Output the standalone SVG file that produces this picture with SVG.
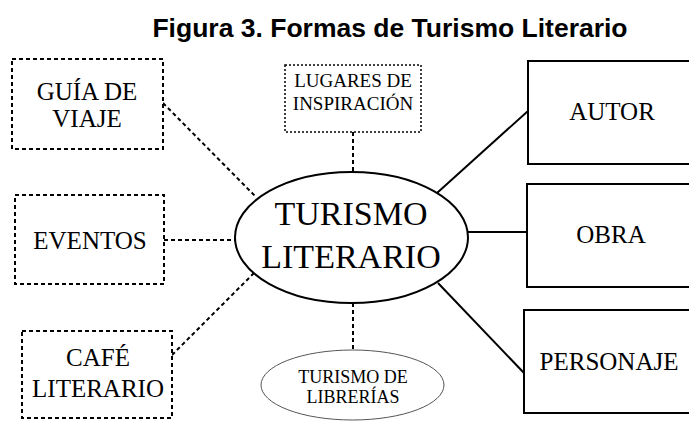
<svg xmlns="http://www.w3.org/2000/svg" width="689" height="421" viewBox="0 0 689 421">
<style>
.t{font-family:"Liberation Serif","Times New Roman",serif;fill:#000;text-anchor:middle}
.dash{fill:#fff;stroke:#000;stroke-width:2;stroke-dasharray:4 3}
.dot{fill:#fff;stroke:#000;stroke-width:1.5;stroke-dasharray:2 2}
.solid{fill:#fff;stroke:#000;stroke-width:2}
.cd{stroke:#000;stroke-width:2;stroke-dasharray:4 3;fill:none}
.cs{stroke:#000;stroke-width:2;fill:none}
</style>
<rect width="689" height="421" fill="#fff"/>
<text x="390" y="37" font-family="Liberation Sans,Arial,sans-serif" font-weight="bold" font-size="26.5" text-anchor="middle">Figura 3. Formas de Turismo Literario</text>
<g id="connectors">
<line class="cd" x1="163" y1="103" x2="256" y2="197"/>
<line class="cd" x1="164" y1="240" x2="236" y2="240"/>
<line class="cd" x1="172" y1="355" x2="254" y2="273"/>
<line class="cd" x1="353" y1="132" x2="353" y2="172"/>
<line class="cd" x1="353" y1="303" x2="353" y2="350"/>
<line class="cs" x1="528" y1="111" x2="437" y2="193"/>
<line class="cs" x1="467" y1="232" x2="527" y2="232"/>
<line class="cs" x1="438" y1="283" x2="524" y2="373"/>
</g>
<g id="guia">
<rect class="dash" x="12" y="59" width="151" height="90"/>
<text class="t" x="87" y="100" font-size="25">GUÍA DE</text>
<text class="t" x="87" y="127" font-size="25">VIAJE</text>
</g>
<g id="eventos">
<rect class="dash" x="15" y="195" width="149" height="89"/>
<text class="t" x="90" y="249" font-size="25">EVENTOS</text>
</g>
<g id="cafe">
<rect class="dash" x="22" y="331" width="150" height="87"/>
<text class="t" x="98" y="366" font-size="25">CAFÉ</text>
<text class="t" x="98" y="397" font-size="25">LITERARIO</text>
</g>
<g id="lugares">
<rect class="dot" x="285" y="65" width="136" height="67"/>
<text class="t" x="353" y="87" font-size="19">LUGARES DE</text>
<text class="t" x="353" y="110" font-size="19">INSPIRACIÓN</text>
</g>
<g id="turismo">
<ellipse class="solid" cx="351.5" cy="237.5" rx="116.5" ry="65.5"/>
<text class="t" x="351" y="225" font-size="34">TURISMO</text>
<text class="t" x="351" y="268" font-size="34">LITERARIO</text>
</g>
<g id="librerias">
<ellipse cx="352.5" cy="385" rx="91.5" ry="35" fill="#fff" stroke="#555" stroke-width="1"/>
<text class="t" x="353" y="383" font-size="18">TURISMO DE</text>
<text class="t" x="353" y="403" font-size="18">LIBRERÍAS</text>
</g>
<g id="autor">
<rect class="solid" x="528" y="61" width="170" height="103"/>
<text class="t" x="612" y="120" font-size="25">AUTOR</text>
</g>
<g id="obra">
<rect class="solid" x="527" y="184" width="170" height="103"/>
<text class="t" x="611" y="243" font-size="25">OBRA</text>
</g>
<g id="personaje">
<rect class="solid" x="524" y="310" width="170" height="103"/>
<text class="t" x="609" y="370" font-size="25">PERSONAJE</text>
</g>
</svg>
